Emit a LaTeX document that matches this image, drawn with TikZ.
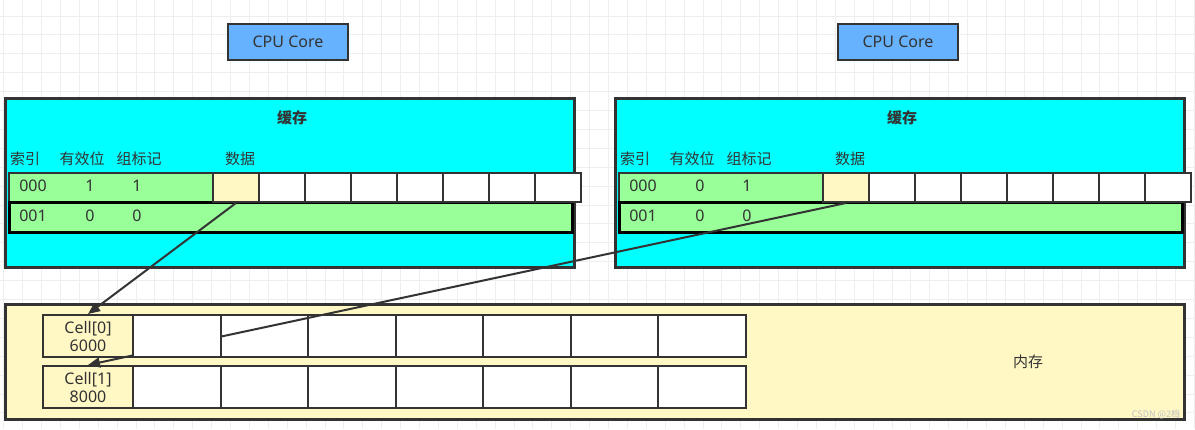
\documentclass[tikz,border=0pt]{standalone}
\usepackage{fontspec}
\setmainfont{Noto Sans}
\newfontfamily\cjk{Noto Sans CJK SC}
\usepackage{tikz}
\usetikzlibrary{arrows.meta, positioning}
\usepackage{xcolor}
\definecolor{linec}{HTML}{333333}
\definecolor{cpublue}{HTML}{66B2FF}
\definecolor{cachecyan}{HTML}{00FFFF}
\definecolor{rowgreen}{HTML}{99FF99}
\definecolor{memyellow}{HTML}{FFF8C5}
\definecolor{gridc}{HTML}{EEEEEE}

\begin{document}
\begin{tikzpicture}[
x=1pt, y=-1pt,
txt/.style={text=linec, font=\fontsize{16}{18}\selectfont, inner sep=0pt},
cjktxt/.style={text=linec, font=\fontsize{15}{18}\selectfont\cjk, inner sep=0pt},
cpubox/.style={draw=linec, line width=2pt, fill=cpublue, minimum width=120pt,
minimum height=36pt, txt},
cachebox/.style={draw=linec, line width=2.5pt, fill=cachecyan, anchor=north west,
minimum width=569pt, minimum height=169pt},
rowa/.style={draw=linec, line width=2pt, fill=rowgreen, anchor=north west,
minimum width=204pt, minimum height=29pt},
rowb/.style={draw=black, line width=3pt, fill=rowgreen, anchor=north west,
minimum width=563pt, minimum height=30pt},
datacell/.style={draw=linec, line width=2pt, fill=white, anchor=north west,
minimum width=46pt, minimum height=29pt},
membox/.style={draw=linec, line width=2.5pt, fill=memyellow, anchor=north west,
minimum width=1179pt, minimum height=115pt},
memlabel/.style={draw=linec, line width=2pt, fill=memyellow, anchor=north west,
minimum width=90pt, minimum height=42pt, align=center, txt},
memcell/.style={draw=linec, line width=2pt, fill=white, anchor=north west,
minimum width=87.57pt, minimum height=42pt},
arrow/.style={-{Triangle[length=12pt, width=10pt]}, draw=linec, line width=2pt}
]
\useasboundingbox (0,0) rectangle (1195,429);

% background grid
\foreach \gx in {0,...,63}
  \draw[gridc, line width=1pt] ({3.7+18.9*\gx},0) -- ({3.7+18.9*\gx},429);
\foreach \gy in {0,...,22}
  \draw[gridc, line width=1pt] (0,{16+18.9*\gy}) -- (1195,{16+18.9*\gy});

% CPU cores
\node[cpubox] (cpuL) at (288,42) {CPU Core};
\node[cpubox] (cpuR) at (898,42) {CPU Core};

% caches
\foreach \s/\dx/\va in {L/0/1, R/610/0} {
  \node[cachebox] (cache\s) at ({4+\dx},97) {};
  \node[cjktxt, font=\fontsize{15}{18}\selectfont\cjk\bfseries] (title\s) at ({292+\dx},118) {缓存};
  \node[cjktxt] (hidx\s) at ({25+\dx},159) {索引};
  \node[cjktxt] (hval\s) at ({82+\dx},159) {有效位};
  \node[cjktxt] (htag\s) at ({139+\dx},159) {组标记};
  \node[cjktxt] (hdat\s) at ({240+\dx},159) {数据};
  \node[rowa] (rowa\s) at ({8+\dx},172) {};
  \node[rowb] (rowb\s) at ({8+\dx},201) {};
  \node[datacell, fill=memyellow] (data\s0) at ({212+\dx},172) {};
  \foreach \i in {1,...,7}
    \node[datacell] (data\s\i) at ({212+46*\i+\dx},172) {};
  \node[txt] (idxa\s) at ({33+\dx},186) {000};
  \node[txt] (vala\s) at ({90+\dx},186) {\va};
  \node[txt] (taga\s) at ({137+\dx},186) {1};
  \node[txt] (idxb\s) at ({33+\dx},216) {001};
  \node[txt] (valb\s) at ({90+\dx},216) {0};
  \node[txt] (tagb\s) at ({137+\dx},216) {0};
}

% memory
\node[membox] (mem) at (4,303) {};
\node[cjktxt] (memtitle) at (1028,362) {内存};
\node[text=black!25, font=\fontsize{9}{10}\selectfont\cjk, inner sep=0pt] (mark) at (1156,414) {CSDN @2档};
\foreach \r/\y/\v in {0/314/6000, 1/365/8000} {
  \node[memlabel] (cell\r) at (42,\y) {Cell[\r]\\\v};
  \foreach \c in {1,...,7}
    \node[memcell] (m\r c\c) at ({132+87.57*(\c-1)},\y) {};
}

\draw[arrow] (dataL0.south) -- (cell0.north);
\draw[arrow] (dataR0.south) -- (cell1.north);

% first cell sits over the line
\node[memcell] at (m0c1.north west) {};

\end{tikzpicture}
\end{document}
